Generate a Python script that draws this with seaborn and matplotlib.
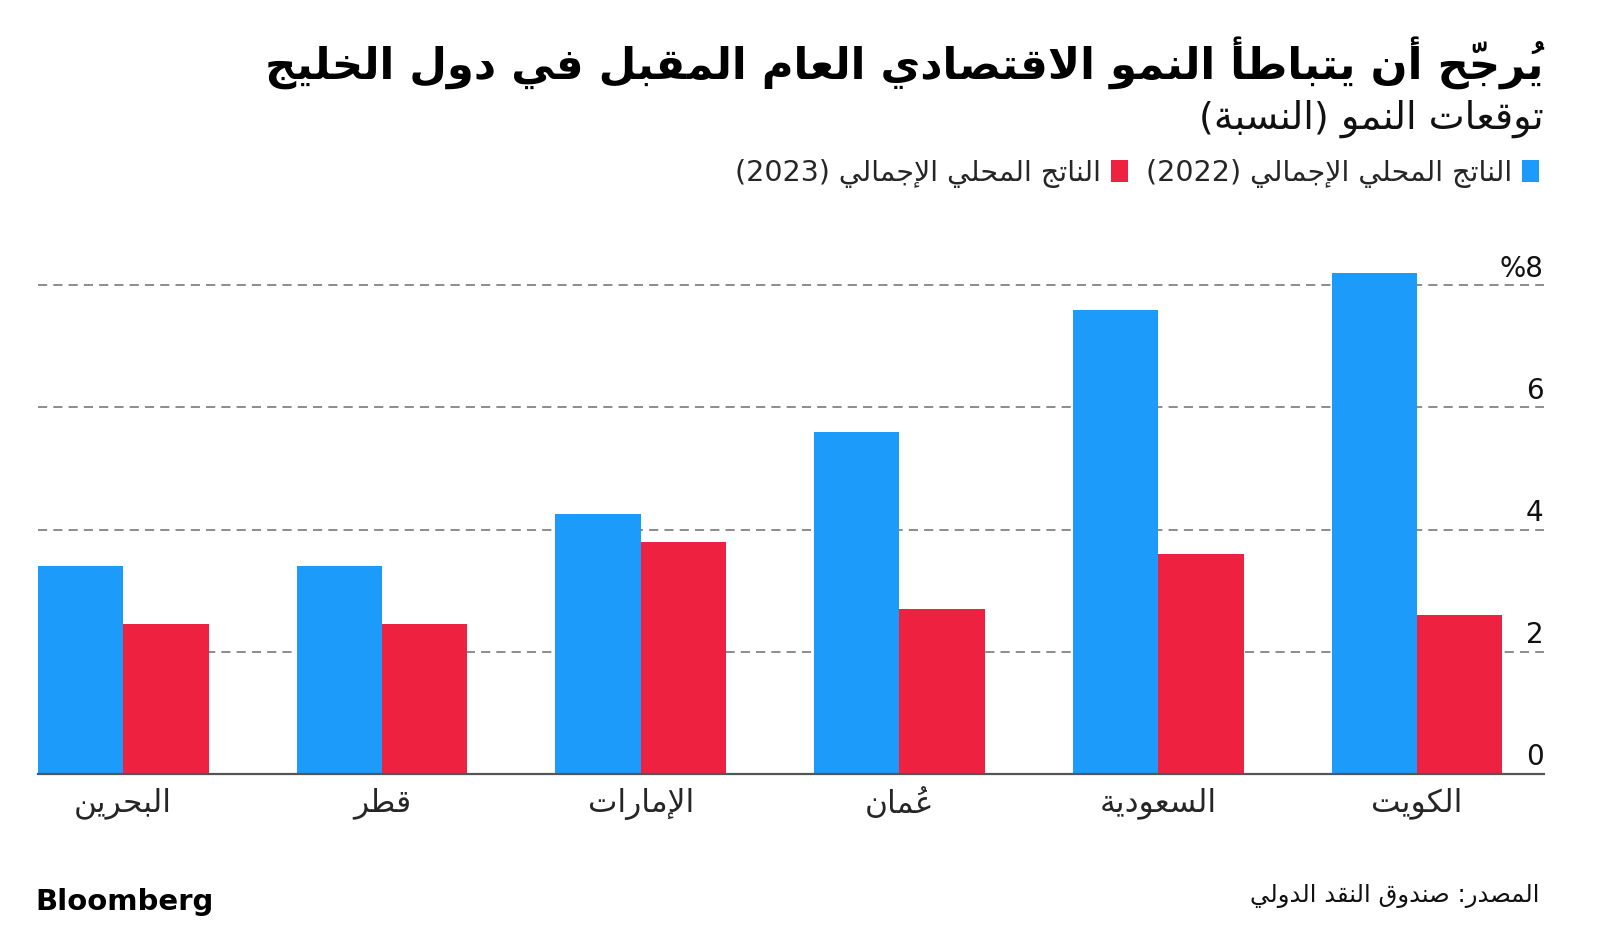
import matplotlib
matplotlib.use('Agg')
import matplotlib.pyplot as plt
import seaborn as sns
import pandas as pd

# values, left to right
countries = ['البحرين', 'قطر', 'الإمارات', 'عُمان', 'السعودية', 'الكويت']
gdp_2022 = [3.4, 3.4, 4.25, 5.6, 7.6, 8.2]
gdp_2023 = [2.45, 2.45, 3.8, 2.7, 3.6, 2.6]
series_names = ['الناتج المحلي الإجمالي (2022)', 'الناتج المحلي الإجمالي (2023)']
y_ticks = [0, 2, 4, 6, 8]
y_tick_labels = ['0', '2', '4', '6', '%8']

title = 'يُرجّح أن يتباطأ النمو الاقتصادي العام المقبل في دول الخليج'
subtitle = 'توقعات النمو (النسبة)'
source = 'المصدر: صندوق النقد الدولي'

blue = '#1d9bfa'
red = '#ee2240'

# --- minimal arabic shaping + right-to-left ordering (matplotlib has none) ---
LETTERS = 'ءآأؤإئابةتثجحخدذرزسشصضطظعغفقكلمنهوىي'
NFORMS = [1, 2, 2, 2, 2, 4, 2, 4, 2, 4, 4, 4, 4, 4, 2, 2, 2, 2,
          4, 4, 4, 4, 4, 4, 4, 4, 4, 4, 4, 4, 4, 4, 4, 2, 2, 4]
FORMS = {}
_c = 0xFE80
for _ch, _n in zip(LETTERS, NFORMS):
    FORMS[_ch] = [chr(_c + i) for i in range(_n)]
    _c += _n
LAM_ALEF = {'آ': 0xFEF5, 'أ': 0xFEF7, 'إ': 0xFEF9, 'ا': 0xFEFB}
MIRROR = {'(': ')', ')': '('}


def is_mark(ch):
    return '\u064b' <= ch <= '\u0652'


def ar(text):
    units = []
    i = 0
    while i < len(text):
        ch = text[i]
        if is_mark(ch) and units:
            units[-1][1] += ch
        elif ch == 'ل' and i + 1 < len(text) and text[i + 1] in LAM_ALEF:
            units.append(['LA' + text[i + 1], ''])
            i += 1
        else:
            units.append([ch, ''])
        i += 1

    def joinable(u):
        return (u[0] in FORMS and u[0] != 'ء') or u[0].startswith('LA')

    def dual(u):
        return u[0] in FORMS and len(FORMS[u[0]]) == 4

    out = []
    for k, u in enumerate(units):
        base = u[0]
        prev = k > 0 and dual(units[k - 1])
        nxt = k + 1 < len(units) and dual(u) and joinable(units[k + 1])
        if base.startswith('LA'):
            g = chr(LAM_ALEF[base[2]] + (1 if prev else 0))
        elif base in FORMS:
            f = FORMS[base]
            if len(f) == 4:
                g = f[3] if prev and nxt else f[1] if prev else f[2] if nxt else f[0]
            elif len(f) == 2:
                g = f[1] if prev else f[0]
            else:
                g = f[0]
        else:
            g = MIRROR.get(base, base)
        # zero-width marks draw to the right of the pen, so put them first
        out.append(u[1] + g)

    clusters = []
    for g in out:
        if g.isdigit() and clusters and clusters[-1].isdigit():
            clusters[-1] += g
        else:
            clusters.append(g)
    return ''.join(reversed(clusters))


# build long table for seaborn
df = pd.DataFrame({'country': countries, series_names[0]: gdp_2022, series_names[1]: gdp_2023})
df = df.melt(id_vars='country', var_name='series', value_name='growth')

sns.set_style('white')
plt.rcParams['font.family'] = ['DejaVu Sans']

fig = plt.figure(figsize=(16, 9.3), dpi=100)
ax = fig.add_axes([0.0236, 0.168, 0.9412, 0.558])

sns.barplot(data=df, x='country', y='growth', hue='series', order=countries,
            hue_order=series_names, palette=[blue, red], width=0.66, gap=0,
            saturation=1, linewidth=0, ax=ax, zorder=2)

ax.set_xlim(-0.33, 5.49)
ax.set_ylim(0, 8.5)
ax.set_xlabel('')
ax.set_ylabel('')
ax.set_yticks(y_ticks)
ax.set_yticklabels([])
ax.tick_params(axis='y', length=0)
ax.yaxis.grid(True, linestyle=(0, (6, 4)), color='#6e6e6e', linewidth=1.1)
ax.set_axisbelow(True)
for s in ['top', 'left', 'right']:
    ax.spines[s].set_visible(False)
ax.spines['bottom'].set_color('#555555')
ax.spines['bottom'].set_linewidth(1.6)
ax.spines['bottom'].set_zorder(3)

ax.set_xticks(range(len(countries)))
ax.set_xticklabels([ar(c) for c in countries], fontsize=22.5)
ax.tick_params(axis='x', length=0, pad=10)

for v, lab in zip(y_ticks, y_tick_labels):
    ax.annotate(lab, xy=(1, v), xycoords=('axes fraction', 'data'),
                xytext=(0, 6), textcoords='offset points',
                ha='right', va='baseline', fontsize=20, color='#111111')

# legend: right-to-left, swatch on the right of each label
old = ax.get_legend()
handles = list(old.legend_handles)
labels = [t.get_text() for t in old.get_texts()]
old.remove()
fig.legend(handles[::-1], [ar(l) for l in labels][::-1], ncol=2, markerfirst=False,
           frameon=False, loc='center right', bbox_to_anchor=(0.9618, 0.8134),
           handlelength=0.6, handleheight=0.8, handletextpad=0.35,
           columnspacing=0.6, fontsize=20.5, borderaxespad=0, borderpad=0)

fig.text(0.9648, 0.932, ar(title), ha='right', va='center', fontsize=31.2,
         fontweight='bold', color='#000000')
fig.text(0.9648, 0.872, ar(subtitle), ha='right', va='center', fontsize=27.5,
         color='#111111')
fig.text(0.962, 0.0365, ar(source), ha='right', va='center', fontsize=17.5,
         color='#111111')
fig.text(0.0223, 0.0297, 'Bloomberg', ha='left', va='center', fontsize=21,
         fontweight='bold', color='#000000')

fig.savefig('out.png', dpi=100)
